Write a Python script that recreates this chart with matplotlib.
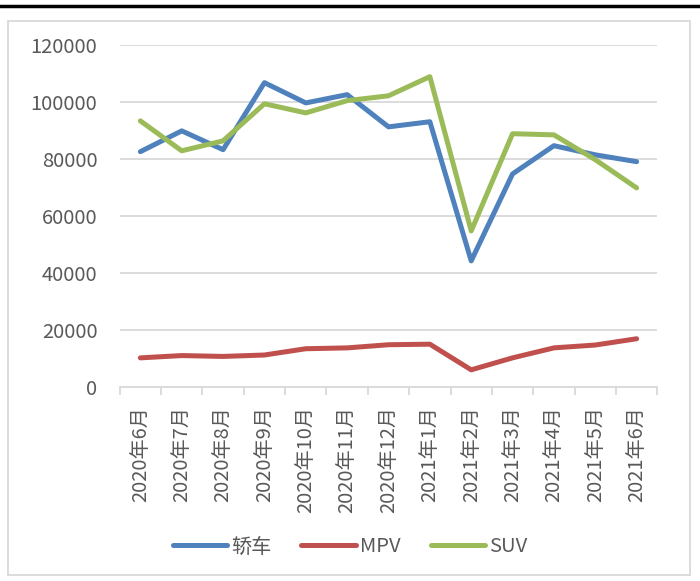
import matplotlib
matplotlib.use("Agg")
import matplotlib.pyplot as plt
from matplotlib.lines import Line2D
from matplotlib.patches import Rectangle

plt.rcParams['font.family'] = ['Noto Sans CJK SC', 'DejaVu Sans']

months = ["2020年6月", "2020年7月", "2020年8月", "2020年9月", "2020年10月",
          "2020年11月", "2020年12月", "2021年1月", "2021年2月", "2021年3月",
          "2021年4月", "2021年5月", "2021年6月"]
sedan = [82500, 89800, 83200, 106700, 99600, 102500, 91200, 93000,
         44200, 74700, 84600, 81400, 79000]
mpv = [10200, 11000, 10700, 11200, 13400, 13700, 14800, 15000,
       6000, 10200, 13700, 14700, 16900]
suv = [93300, 82800, 86300, 99300, 96100, 100400, 102100, 108800,
       54700, 88800, 88400, 79700, 69800]
yticks = [0, 20000, 40000, 60000, 80000, 100000, 120000]

text_color = "#595959"
grid_color = "#D9D9D9"

fig = plt.figure(figsize=(7.0, 5.81), dpi=100)
ax = fig.add_axes([0.171, 0.334, 0.768, 0.589])

x = list(range(len(months)))
ax.plot(x, sedan, color="#4F81BD", lw=3.6, label="轿车", solid_capstyle="round")
ax.plot(x, mpv, color="#C0504D", lw=3.6, label="MPV", solid_capstyle="round")
ax.plot(x, suv, color="#9BBB59", lw=3.6, label="SUV", solid_capstyle="round")

ax.set_xlim(-0.5, len(months) - 0.5)
ax.set_ylim(0, 120000)
ax.set_yticks(yticks)
ax.set_yticklabels([str(v) for v in yticks], color=text_color, fontsize=14.5)
ax.yaxis.grid(True, color=grid_color, lw=1.3)
ax.set_axisbelow(True)
ax.tick_params(axis="y", length=0, pad=16)

ax.set_xticks(x)
ax.set_xticklabels(months, rotation=90, color=text_color, fontsize=14.5)
ax.set_xticks([i - 0.5 for i in range(len(months) + 1)], minor=True)
ax.tick_params(axis="x", which="major", length=0, pad=14)
ax.tick_params(axis="x", which="minor", length=6, color=grid_color, width=1.3)

for side in ["top", "right", "left"]:
    ax.spines[side].set_visible(False)
ax.spines["bottom"].set_color(grid_color)
ax.spines["bottom"].set_linewidth(1.3)

fig.legend(loc="center", bbox_to_anchor=(0.5, 1 - 547 / 581), ncol=3,
           frameon=False, fontsize=14.5, labelcolor=text_color,
           handlelength=2.7, handletextpad=0.2, columnspacing=1.5)

# outer chart border and black rule at top
fig.add_artist(Rectangle((8 / 700, 1 - 575 / 581), 682 / 700, 554 / 581,
                         transform=fig.transFigure, fill=False,
                         edgecolor=grid_color, lw=1.3))
fig.add_artist(Line2D([0, 1], [1 - 6 / 581, 1 - 6 / 581],
                      transform=fig.transFigure, color="black", lw=2.5))

fig.savefig("out.png", dpi=100)
